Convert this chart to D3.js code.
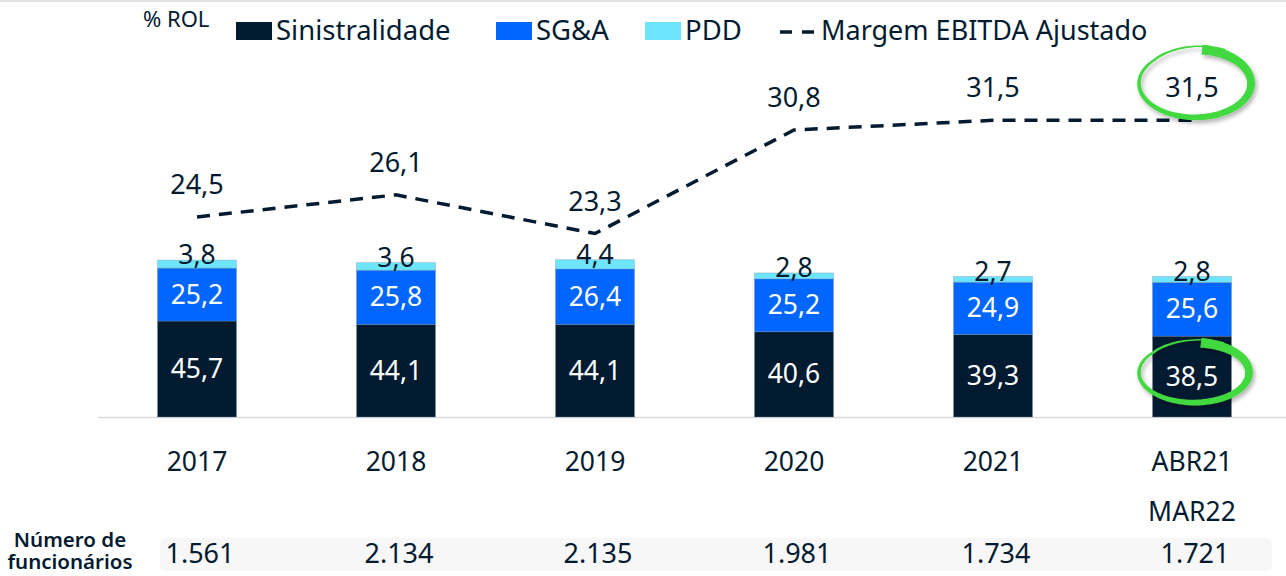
<!DOCTYPE html>
<html>
<head>
<meta charset="utf-8">
<script src="https://cdn.jsdelivr.net/npm/d3@7"></script>
<style>
  body { margin: 0; background: #fff; }
  svg { display: block; font-family: "Noto Sans", sans-serif; }
</style>
</head>
<body>
<div id="chart"></div>
<script>
// chart values
var categories     = ['2017', '2018', '2019', '2020', '2021', 'ABR21 MAR22'];
var sinistralidade = [45.7, 44.1, 44.1, 40.6, 39.3, 38.5];
var sga            = [25.2, 25.8, 26.4, 25.2, 24.9, 25.6];
var pdd            = [3.8, 3.6, 4.4, 2.8, 2.7, 2.8];
var margem_ebitda  = [24.5, 26.1, 23.3, 30.8, 31.5, 31.5];
var funcionarios   = ['1.561', '2.134', '2.135', '1.981', '1.734', '1.721'];

var series_keys   = ['sinistralidade', 'sga', 'pdd'];
var series_names  = ['Sinistralidade', 'SG&A', 'PDD'];

// chart params
var width  = 1286;
var height = 576;
var baseline_y = 417;
var bar_width  = 79;

var dark_color  = '#021b31';
var blue_color  = '#0066ff';
var light_color = '#6de6fd';
var green_color = '#42d83f';
var colors = [dark_color, blue_color, light_color];

var fmt = function(v) { return String(v).replace('.', ','); };

// build rows for d3.stack
var rows = categories.map(function(c, i) {
    return { category: c, sinistralidade: sinistralidade[i], sga: sga[i], pdd: pdd[i] };
});

var svg = d3.select('#chart')
    .append('svg')
    .attr('width', width)
    .attr('height', height);

// soft shadow line at the top edge
svg.append('rect')
    .attr('x', 0).attr('y', 0)
    .attr('width', width).attr('height', 2)
    .attr('fill', '#e4e4e4');

var defs = svg.append('defs');
var shadow = defs.append('filter').attr('id', 'shadow')
    .attr('x', '-20%').attr('y', '-20%').attr('width', '140%').attr('height', '150%');
shadow.append('feDropShadow')
    .attr('dx', 2).attr('dy', 3).attr('stdDeviation', 2)
    .attr('flood-color', '#000').attr('flood-opacity', 0.3);

// scales
var x_scale = d3.scalePoint()
    .domain(categories)
    .range([197, 1192]);

var y_bar = d3.scaleLinear()
    .domain([0, 80])
    .range([baseline_y, baseline_y - 168]);

var y_line = d3.scaleLinear()
    .domain([20, 35])
    .range([279.1, 72]);

// baseline
svg.append('line')
    .attr('x1', 98).attr('x2', width)
    .attr('y1', baseline_y + 0.5).attr('y2', baseline_y + 0.5)
    .attr('stroke', '#d9d9d9')
    .attr('stroke-width', 1.5);

// stacked bars
var stack_data = d3.stack().keys(series_keys)(rows);

var groups = svg.selectAll('g.series')
    .data(stack_data)
    .enter()
    .append('g')
    .attr('class', function(d) { return 'series ' + d.key; })
    .style('fill', function(d, i) { return colors[i]; });

groups.selectAll('rect')
    .data(function(d) { return d; })
    .enter()
    .append('rect')
    .attr('x', function(d) { return x_scale(d.data.category) - bar_width / 2; })
    .attr('y', function(d) { return y_bar(d[1]); })
    .attr('width', bar_width)
    .attr('height', function(d) { return y_bar(d[0]) - y_bar(d[1]); })
    .attr('stroke', 'rgba(120,140,160,0.45)')
    .attr('stroke-width', 0.8);

// bar labels
stack_data.forEach(function(layer, li) {
    svg.selectAll('text.lbl-' + layer.key)
        .data(layer)
        .enter()
        .append('text')
        .attr('class', 'lbl-' + layer.key)
        .attr('x', function(d) { return x_scale(d.data.category); })
        .attr('y', function(d) {
            if (li == 2) return y_bar(d[1]) + 4;
            return (y_bar(d[0]) + y_bar(d[1])) / 2 + 9;
        })
        .attr('text-anchor', 'middle')
        .attr('font-size', '26.5px')
        .attr('fill', li == 2 ? dark_color : '#ffffff')
        .text(function(d) { return fmt(d.data[layer.key]); });
});

// margem EBITDA line
var line = d3.line()
    .x(function(d, i) { return x_scale(categories[i]); })
    .y(function(d) { return y_line(d); });

svg.append('path')
    .datum(margem_ebitda)
    .attr('d', line)
    .attr('fill', 'none')
    .attr('stroke', dark_color)
    .attr('stroke-width', 3.5)
    .attr('stroke-dasharray', '13,9');

svg.selectAll('text.line-lbl')
    .data(margem_ebitda)
    .enter()
    .append('text')
    .attr('class', 'line-lbl')
    .attr('x', function(d, i) { return x_scale(categories[i]); })
    .attr('y', function(d) { return y_line(d) - 23; })
    .attr('text-anchor', 'middle')
    .attr('font-size', '27px')
    .attr('fill', dark_color)
    .text(function(d) { return fmt(d); });

// category labels (last one on two lines)
var cat_labels = svg.selectAll('text.cat')
    .data(categories)
    .enter()
    .append('text')
    .attr('class', 'cat')
    .attr('x', function(d) { return x_scale(d); })
    .attr('y', 471)
    .attr('text-anchor', 'middle')
    .attr('font-size', '26.5px')
    .attr('fill', dark_color);

cat_labels.each(function(d) {
    var parts = d.split(' ');
    var t = d3.select(this);
    parts.forEach(function(p, k) {
        t.append('tspan')
            .attr('x', x_scale(d))
            .attr('dy', k == 0 ? 0 : 50)
            .text(p);
    });
});

// Numero de funcionarios row
svg.append('rect')
    .attr('x', 160).attr('y', 538)
    .attr('width', 1112).attr('height', 33)
    .attr('rx', 5)
    .attr('fill', '#f7f7f7');

svg.selectAll('text.func')
    .data(funcionarios)
    .enter()
    .append('text')
    .attr('class', 'func')
    .attr('x', function(d, i) { return x_scale(categories[i]) + 3; })
    .attr('y', 563)
    .attr('text-anchor', 'middle')
    .attr('font-size', '27px')
    .attr('fill', dark_color)
    .text(function(d) { return d; });

svg.append('text')
    .attr('x', 70).attr('y', 547)
    .attr('text-anchor', 'middle')
    .attr('font-size', '20.5px')
    .attr('font-weight', 600)
    .attr('fill', dark_color)
    .text('Número de');
svg.append('text')
    .attr('x', 70).attr('y', 569)
    .attr('text-anchor', 'middle')
    .attr('font-size', '20.5px')
    .attr('font-weight', 600)
    .attr('fill', dark_color)
    .text('funcionários');

// legend
svg.append('text')
    .attr('x', 143).attr('y', 27)
    .attr('font-size', '22px')
    .attr('fill', dark_color)
    .text('% ROL');

var legend_x = [236, 496, 645];
series_names.forEach(function(name, i) {
    svg.append('rect')
        .attr('x', legend_x[i]).attr('y', 22)
        .attr('width', 36).attr('height', 18)
        .attr('fill', colors[i]);
    svg.append('text')
        .attr('x', legend_x[i] + 40).attr('y', 40)
        .attr('font-size', '27.5px')
        .attr('fill', dark_color)
        .text(name);
});

svg.append('line')
    .attr('x1', 780).attr('x2', 815)
    .attr('y1', 32).attr('y2', 32)
    .attr('stroke', dark_color)
    .attr('stroke-width', 3.5)
    .attr('stroke-dasharray', '12,10');
svg.append('text')
    .attr('x', 821).attr('y', 40)
    .attr('font-size', '27px')
    .attr('fill', dark_color)
    .text('Margem EBITDA Ajustado');

// hand drawn green rings around the last values
function ring(cx, cy, rx, ry) {
    var n = 120, outer = [], inner = [];
    var start = -Math.PI * 0.46, sweep = Math.PI * 2.12;
    for (var k = 0; k <= n; k++) {
        var t = k / n;
        var a = start + t * sweep;
        var grow = 1 + (t > 0.8 ? (t - 0.8) * 0.7 : 0);
        var w = 9 * (1 - t) + 0.8;
        var ca = Math.cos(a), sa = Math.sin(a);
        outer.push([cx + (rx * grow + w / 2) * ca, cy + (ry * grow + w / 2) * sa]);
        inner.push([cx + (rx * grow - w / 2) * ca, cy + (ry * grow - w / 2) * sa]);
    }
    return 'M' + outer.concat(inner.reverse()).map(function(p) {
        return p[0].toFixed(1) + ',' + p[1].toFixed(1);
    }).join('L') + 'Z';
}

var last = categories.length - 1;
var last_x = x_scale(categories[last]);

svg.append('path')
    .attr('d', ring(last_x + 3, y_line(margem_ebitda[last]) - 37, 56, 34))
    .attr('fill', green_color)
    .attr('filter', 'url(#shadow)');

svg.append('path')
    .attr('d', ring(last_x + 2, (y_bar(0) + y_bar(sinistralidade[last])) / 2 - 4, 55, 30))
    .attr('fill', green_color)
    .attr('filter', 'url(#shadow)');
</script>
</body>
</html>
